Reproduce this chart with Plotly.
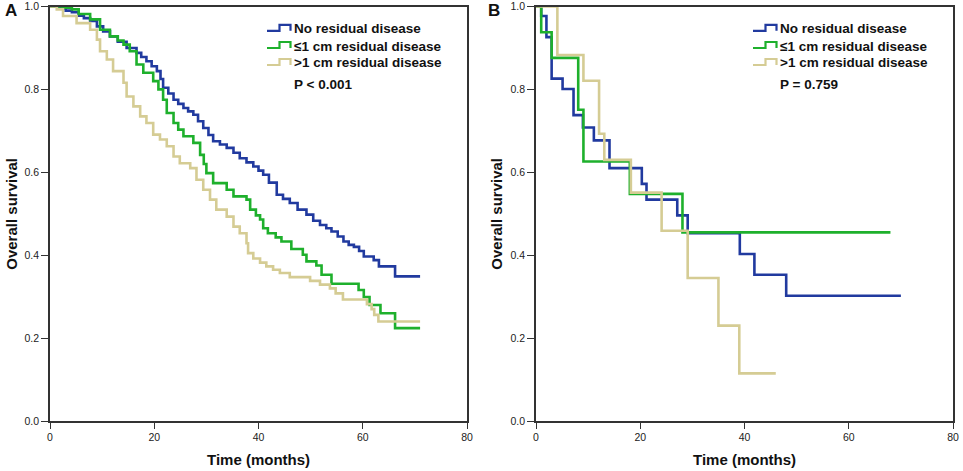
import plotly.graph_objects as go

# ---------------- data ----------------
# Panel A
a_none_t = [0, 2, 3, 4.2, 5.5, 6.5, 7.7, 9, 10.2, 11.5, 13, 14.7, 16.6, 17.5, 18.5, 19.5, 20.5, 21.2,
            21.7, 22.7, 23.7, 24.6, 25.6, 26.5, 27.5, 28.4, 29.4, 30.4, 31.3, 32.6, 33.9, 35.2, 36.4,
            37.7, 39, 40, 40.9, 42, 43.5, 44.7, 46, 47.5, 49.2, 50.5, 51.8, 53, 54, 55.2, 56.3, 57.3,
            58.3, 59.3, 60.2, 62.1, 63.1, 66.2, 71]
a_none_s = [1, 0.995, 0.99, 0.986, 0.978, 0.972, 0.965, 0.952, 0.94, 0.928, 0.915, 0.90, 0.888, 0.878,
            0.868, 0.856, 0.844, 0.825, 0.804, 0.79, 0.775, 0.765, 0.755, 0.747, 0.739, 0.723, 0.707,
            0.69, 0.675, 0.667, 0.659, 0.647, 0.634, 0.624, 0.614, 0.604, 0.594, 0.575, 0.546, 0.536,
            0.526, 0.51, 0.498, 0.483, 0.473, 0.465, 0.457, 0.445, 0.433, 0.425, 0.42, 0.41, 0.397,
            0.388, 0.373, 0.349, 0.349]

a_le1_t = [0, 2.5, 4.2, 5.5, 7.7, 9.6, 11.5, 13, 14.1, 15.3, 16.6, 17.9, 19.8, 20.8, 21.7, 22.4, 23.7,
           24.6, 25.6, 27.5, 28.8, 29.5, 30, 31.3, 33.9, 35.2, 37.7, 38.4, 39.5, 40.3, 40.9, 41.8, 43.3,
           44.4, 46.3, 48.5, 49.2, 51.1, 52.1, 54, 59.2, 60.2, 61.3, 63.4, 66.2, 71]
a_le1_s = [1, 0.997, 0.993, 0.982, 0.969, 0.944, 0.928, 0.918, 0.908, 0.892, 0.86, 0.84, 0.82, 0.80,
           0.775, 0.743, 0.719, 0.703, 0.687, 0.671, 0.642, 0.62, 0.598, 0.574, 0.558, 0.542, 0.534,
           0.51, 0.496, 0.486, 0.465, 0.453, 0.443, 0.433, 0.415, 0.401, 0.385, 0.375, 0.353, 0.331,
           0.316, 0.299, 0.28, 0.26, 0.224, 0.224]

a_gt1_t = [0, 1.3, 2.5, 5.1, 7.7, 9, 9.6, 10.9, 12.1, 14.1, 14.7, 16, 17.3, 18.5, 19.8, 21.1, 22.4,
           23.7, 24.9, 26.9, 28.1, 29.4, 30.7, 31.9, 33.9, 35.2, 36.4, 37.7, 38, 39, 40.3, 41.5, 42.8,
           44.1, 46, 49.9, 51.8, 53.7, 54.8, 56.2, 60.8, 61.7, 62.2, 63, 71]
a_gt1_s = [1, 0.993, 0.977, 0.96, 0.944, 0.92, 0.892, 0.872, 0.844, 0.816, 0.783, 0.759, 0.735, 0.719,
           0.691, 0.679, 0.663, 0.638, 0.622, 0.61, 0.582, 0.558, 0.534, 0.51, 0.493, 0.469, 0.453,
           0.429, 0.405, 0.392, 0.382, 0.373, 0.365, 0.357, 0.347, 0.338, 0.329, 0.32, 0.308, 0.293,
           0.282, 0.27, 0.256, 0.24, 0.24]

# Panel B
b_none_t = [0, 1, 2, 3, 5.1, 7.2, 9, 11.1, 14.1, 20.3, 21.2, 27.1, 29.1, 39.1, 41.9, 48, 70]
b_none_s = [1, 0.977, 0.926, 0.826, 0.801, 0.738, 0.708, 0.677, 0.61, 0.572, 0.534, 0.496, 0.453,
            0.403, 0.353, 0.302, 0.302]
b_le1_t = [0, 1, 3, 8.1, 9.1, 18, 28.1, 68]
b_le1_s = [1, 0.938, 0.876, 0.751, 0.626, 0.548, 0.455, 0.455]
b_gt1_t = [0, 4.1, 9.1, 12.1, 13.1, 18.2, 24.1, 29.1, 35, 39, 46]
b_gt1_s = [1, 0.883, 0.821, 0.693, 0.63, 0.551, 0.459, 0.345, 0.23, 0.115, 0.115]

group_names = ["No residual disease", "≤1 cm residual disease", ">1 cm residual disease"]
group_colors = ["#213a9f", "#1eb02c", "#d5cc94"]
p_texts = ["P < 0.001", "P = 0.759"]
panel_labels = ["A", "B"]
x_ticks = [0, 20, 40, 60, 80]
y_ticks = [0.0, 0.2, 0.4, 0.6, 0.8, 1.0]
x_title = "Time (months)"
y_title = "Overall survival"

# ---------------- layout geometry ----------------
W, H = 963, 471
FONT = "Arial, Liberation Sans, sans-serif"
yd = [1 - 421 / H, 1 - 6.5 / H]
xdA = [50 / W, 467 / W]
xdB = [536 / W, 953 / W]
pw = 417.0   # plot width px
ph = 414.5   # plot height px

fig = go.Figure()

panels = [
    ("x", "y", [(a_none_t, a_none_s), (a_le1_t, a_le1_s), (a_gt1_t, a_gt1_s)]),
    ("x2", "y2", [(b_none_t, b_none_s), (b_le1_t, b_le1_s), (b_gt1_t, b_gt1_s)]),
]

for xa, ya, series in panels:
    for (t, s), name, col in zip(series, group_names, group_colors):
        fig.add_trace(go.Scatter(x=t, y=s, mode="lines", line=dict(color=col, width=2.6, shape="hv"),
                                 name=name, xaxis=xa, yaxis=ya, showlegend=False, hoverinfo="skip",
                                 cliponaxis=False))

axis_common = dict(showline=True, linecolor="#333333", linewidth=1.6, mirror=True,
                   ticks="outside", tickcolor="#333333", tickwidth=1.3,
                   showgrid=False, zeroline=False, automargin=False,
                   tickfont=dict(family=FONT, size=10.5, color="#222222"))

fig.update_layout(
    width=W, height=H, margin=dict(l=0, r=0, t=0, b=0, autoexpand=False),
    paper_bgcolor="white", plot_bgcolor="white", showlegend=False,
    xaxis=dict(domain=xdA, range=[0, 80], tickvals=x_ticks, ticklen=6, anchor="y", **axis_common),
    yaxis=dict(domain=yd, range=[0, 1], tickvals=y_ticks, tickformat=".1f", ticklen=7, anchor="x",
               **axis_common),
    xaxis2=dict(domain=xdB, range=[0, 80], tickvals=x_ticks, ticklen=6, anchor="y2", **axis_common),
    yaxis2=dict(domain=yd, range=[0, 1], tickvals=y_ticks, tickformat=".1f", ticklen=7, anchor="x2",
                **axis_common),
)

annotations = []
shapes = []
row_y = [28.8, 46.0, 63.0]
for i, (xr, yr, xd) in enumerate([("x", "y", xdA), ("x2", "y2", xdB)]):
    gx0 = 217.0  # glyph start px from plot left
    for r, (name, col) in enumerate(zip(group_names, group_colors)):
        yc = row_y[r] - 6.5  # px from plot top
        def fx(px):
            return px / pw
        def fy(py):
            return 1 - py / ph
        path = (f"M {fx(gx0)},{fy(yc + 2)} L {fx(gx0 + 12.5)},{fy(yc + 2)} "
                f"L {fx(gx0 + 12.5)},{fy(yc - 4)} L {fx(gx0 + 23.5)},{fy(yc - 4)} "
                f"L {fx(gx0 + 23.5)},{fy(yc + 2)}")
        shapes.append(dict(type="path", path=path, xref=f"{xr} domain", yref=f"{yr} domain",
                           line=dict(color=col, width=2.2)))
        annotations.append(dict(text=f"<b>{name}</b>", xref=f"{xr} domain", yref=f"{yr} domain",
                                x=(gx0 + 25) / pw, y=1 - yc / ph, xanchor="left", yanchor="middle",
                                showarrow=False, font=dict(family=FONT, size=13.5, color="#111111")))
    annotations.append(dict(text=f"<b>{p_texts[i]}</b>", xref=f"{xr} domain", yref=f"{yr} domain",
                            x=(gx0 + 25) / pw, y=1 - (84 - 6.5) / ph, xanchor="left", yanchor="middle",
                            showarrow=False, font=dict(family=FONT, size=13.5, color="#111111")))
    # axis titles
    annotations.append(dict(text=f"<b>{x_title}</b>", xref="paper", yref="paper",
                            x=(xd[0] + xd[1]) / 2, y=1 - 459 / H, xanchor="center", yanchor="middle",
                            showarrow=False, font=dict(family=FONT, size=15, color="#111111")))
    ytx = 12 if i == 0 else 497
    annotations.append(dict(text=f"<b>{y_title}</b>", xref="paper", yref="paper", textangle=-90,
                            x=ytx / W, y=(yd[0] + yd[1]) / 2, xanchor="center", yanchor="middle",
                            showarrow=False, font=dict(family=FONT, size=15, color="#111111")))
    plx = 11 if i == 0 else 494
    annotations.append(dict(text=f"<b>{panel_labels[i]}</b>", xref="paper", yref="paper",
                            x=plx / W, y=1 - 11 / H, xanchor="center", yanchor="middle",
                            showarrow=False, font=dict(family=FONT, size=17, color="#111111")))

fig.update_layout(annotations=annotations, shapes=shapes)
fig.write_html("out.html", config={"displayModeBar": False},
               post_script="document.body.style.margin='0';document.body.style.overflow='hidden';")
